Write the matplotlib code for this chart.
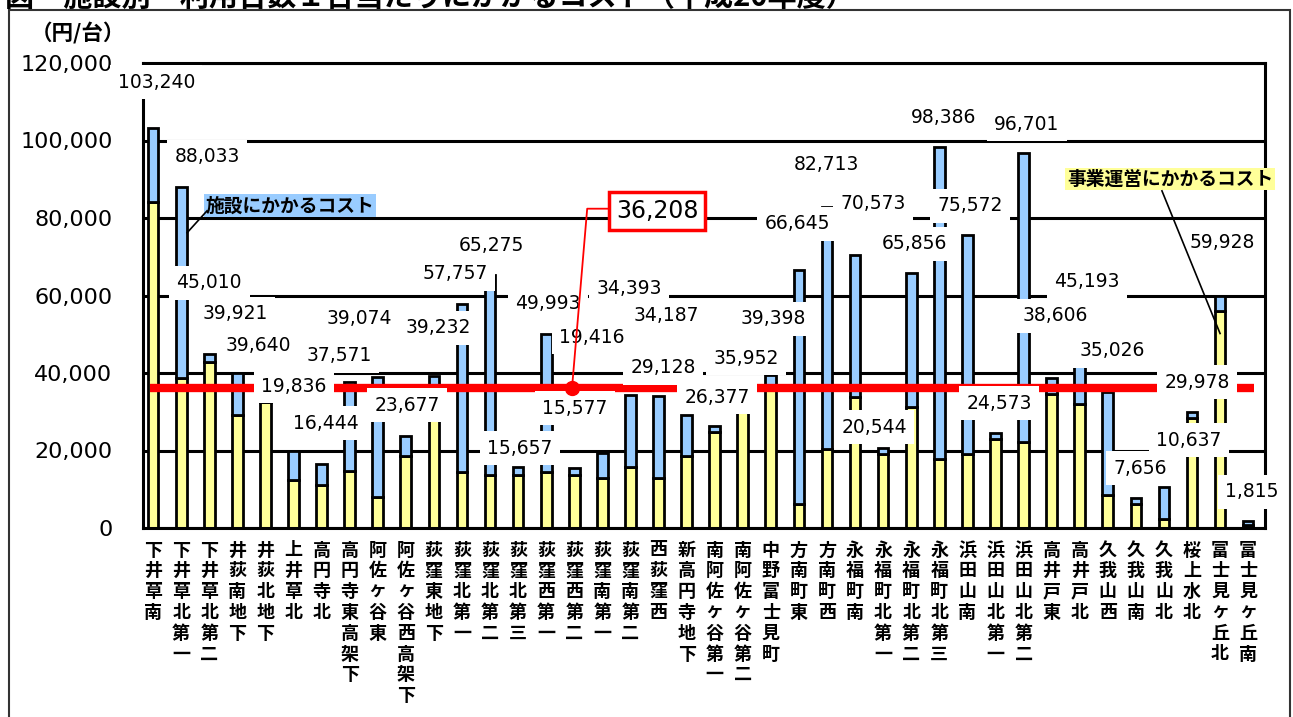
import matplotlib
matplotlib.use("Agg")
import matplotlib.pyplot as plt
import matplotlib.patches as mpatches
import numpy as np

# ---------------- data ----------------
stations = ["下井草南", "下井草北第一", "下井草北第二", "井荻南地下", "井荻北地下",
            "上井草北", "高円寺北", "高円寺東高架下", "阿佐ヶ谷東", "阿佐ヶ谷西高架下",
            "荻窪東地下", "荻窪北第一", "荻窪北第二", "荻窪北第三", "荻窪西第一",
            "荻窪西第二", "荻窪南第一", "荻窪南第二", "西荻窪西", "新高円寺地下",
            "南阿佐ヶ谷第一", "南阿佐ヶ谷第二", "中野富士見町", "方南町東", "方南町西",
            "永福町南", "永福町北第一", "永福町北第二", "永福町北第三", "浜田山南",
            "浜田山北第一", "浜田山北第二", "高井戸東", "高井戸北", "久我山西",
            "久我山南", "久我山北", "桜上水北", "富士見ヶ丘北", "富士見ヶ丘南"]

# total cost per vehicle (yen)
totals = [103240, 88033, 45010, 39921, 39640, 19836, 16444, 37571, 39074, 23677,
          39232, 57757, 65275, 15657, 49993, 15577, 19416, 34393, 34187, 29128,
          26377, 35952, 39398, 66645, 82713, 70573, 20544, 65856, 98386, 75572,
          24573, 96701, 38606, 45193, 35026, 7656, 10637, 29978, 59928, 1815]

# operation cost part (yellow)
operation = [84100, 38600, 42900, 29200, 32600, 12400, 11000, 14800, 7900, 18500,
             36000, 14500, 13800, 13800, 14500, 13800, 12800, 15800, 12800, 18500,
             24700, 34000, 36800, 6100, 20300, 33800, 19000, 31200, 17700, 19000,
             22900, 22100, 34600, 31900, 8600, 6200, 2200, 28500, 56000, 900]

average = 36208
yticks = [0, 20000, 40000, 60000, 80000, 100000, 120000]
unit_label = "（円/台）"
facility_name = "施設にかかるコスト"
operation_name = "事業運営にかかるコスト"
title = "図　施設別　利用台数１台当たりにかかるコスト（平成20年度）"

# label placement (x offset from bar, y centre in data units) – layout only
label_dx = [0.11, 0.92, 0.0, -0.08, -0.26, 0.02, 0.16, -0.38, -0.66, 0.05,
            0.15, -0.25, 0.04, 0.07, 0.07, 0.03, -0.37, -0.05, 0.27, -0.84,
            0.09, 0.12, 0.08, -0.06, -0.03, 0.64, -0.32, 0.10, 0.14, 0.10,
            0.13, 0.12, 0.12, 0.26, 0.15, 0.15, 0.89, 0.18, 0.07, 0.14]
label_y = [115000, 95750, 63300, 55300, 47100, 36550, 27000, 44500, 54000, 31700,
           51700, 65600, 72800, 20600, 57900, 30900, 49200, 61800, 54800, 41400,
           33700, 43800, 54000, 78500, 93900, 83700, 26000, 73400, 106000, 83100,
           32200, 104200, 54800, 63600, 45800, 15400, 22600, 37600, 73600, 9300]

# ---------------- figure ----------------
JP = ["Noto Sans CJK JP", "DejaVu Sans"]
NUM = ["DejaVu Sans", "Noto Sans CJK JP"]
W, H = 1293, 717
fig = plt.figure(figsize=(W / 100, H / 100), dpi=100)
ax = fig.add_axes([143 / W, 1 - 528 / H, (1265 - 143) / W, (528 - 63) / H])

x = np.arange(len(stations))
operation_arr = np.array(operation)
facility_arr = np.array(totals) - operation_arr

bw = 0.38
ax.bar(x, operation_arr, width=bw, color="#FFFF99", edgecolor="black", linewidth=2.0, zorder=2)
ax.bar(x, facility_arr, width=bw, bottom=operation_arr, color="#99CCFF",
       edgecolor="black", linewidth=2.0, zorder=2)

ax.set_ylim(0, 120000)
ax.set_xlim(-0.36, 39.6)
ax.set_yticks(yticks)
ax.set_yticklabels([f"{v:,}" for v in yticks], fontsize=16, family=NUM)
ax.yaxis.grid(True, color="black", linewidth=2.2, zorder=1)
ax.set_axisbelow(True)
for s in ax.spines.values():
    s.set_color("black")
    s.set_linewidth(2.2)
ax.tick_params(axis="both", length=0)
ax.tick_params(axis="y", pad=22)
ax.tick_params(axis="x", pad=9)
ax.set_xticks(x)
ax.set_xticklabels(["\n".join(list(s)) for s in stations], family=JP, fontsize=13,
                   fontweight="bold", va="top", linespacing=1.12)

# average line
ax.plot([-0.1, 39.2], [average, average], color="red", linewidth=6, zorder=3,
        solid_capstyle="butt")

# value labels
for i, t in enumerate(totals):
    ax.text(i + label_dx[i], label_y[i], f"{t:,}", ha="center", va="center",
            fontsize=13.5, family=NUM, zorder=4,
            bbox=dict(boxstyle="square,pad=0.4", fc="white", ec="none"))

# average callout
ax.plot([14.92, 15.46, 16.2], [average, 82400, 82400], color="red", linewidth=1.3, zorder=6)
ax.plot([14.92], [average], "o", color="red", markersize=10, zorder=6)
ax.text(17.95, 81850, f"{average:,}", ha="center", va="center", fontsize=17,
        family=NUM, zorder=6,
        bbox=dict(boxstyle="square,pad=0.3", fc="white", ec="red", lw=2.5))

# series callouts
ax.text(4.88, 83140, facility_name, ha="center", va="center", fontsize=13.5,
        fontweight="bold", family=JP, zorder=6,
        bbox=dict(boxstyle="square,pad=0.1", fc="#99CCFF", ec="none"))
ax.plot([1.21, 1.92], [76190, 81850], color="black", linewidth=1.2, zorder=6)
ax.text(36.22, 90090, operation_name, ha="center", va="center", fontsize=13.5,
        fontweight="bold", family=JP, zorder=6,
        bbox=dict(boxstyle="square,pad=0.1", fc="#FFFF99", ec="none"))
ax.plot([35.93, 38.0], [87000, 50190], color="black", linewidth=1.2, zorder=6)

# unit and title
fig.text(78 / W, 1 - 33 / H, unit_label, ha="center", va="center", fontsize=15.5,
         fontweight="bold", family=JP)
fig.text(5 / W, 1 - 6 / H, title, ha="left", va="baseline", fontsize=21,
         fontweight="bold", family=JP)

# outer frame
fig.patches.append(mpatches.Rectangle((9 / W, -0.01), (1290 - 9) / W, 1 - 10 / H + 0.01,
                                      transform=fig.transFigure, fill=False,
                                      edgecolor="#333333", linewidth=1.5))

fig.savefig("out.png", dpi=100)
